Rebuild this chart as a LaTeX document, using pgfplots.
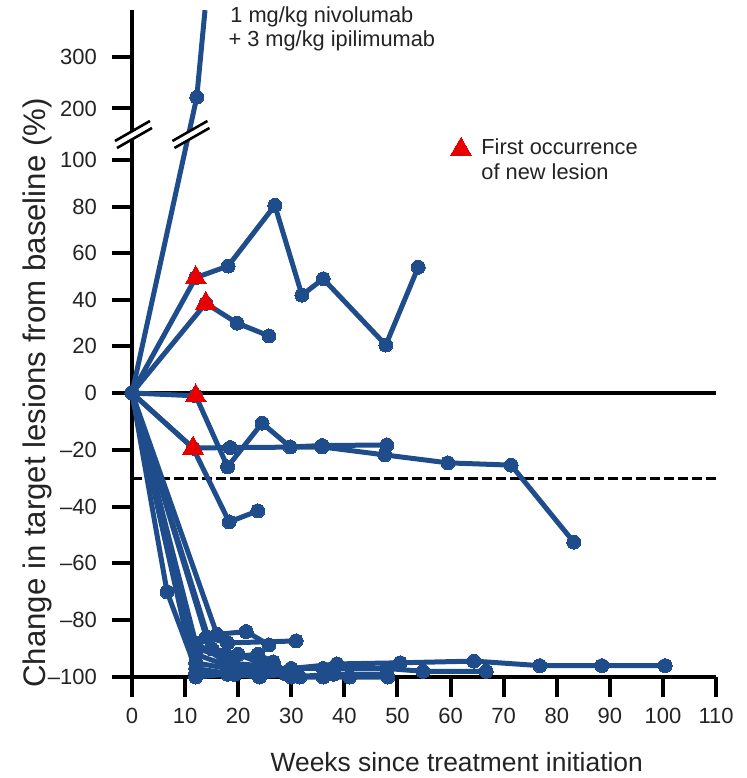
\documentclass[border=0pt]{standalone}
\usepackage{fontspec}
\setmainfont{Liberation Sans}
\usepackage{pgfplots}
\pgfplotsset{compat=1.18}
\definecolor{sblue}{RGB}{31,77,139}
\definecolor{sred}{RGB}{232,0,0}
\definecolor{txt}{RGB}{35,35,35}
\begin{document}
\begin{tikzpicture}
\begin{axis}[
  x=2.655pt, y=0.5pt,
  xmin=0, xmax=110, ymin=-284, ymax=383,
  clip=false,
  axis x line*=bottom, axis y line*=left,
  axis line style={line width=2pt},
  tick style={line width=2pt, black},
  major tick length=10pt,
  tick align=outside,
  xtick={0,10,...,110},
  ytick={-284,-227.2,-170.4,-113.6,-56.8,0,46.6,93.2,139.8,186.4,233,284.5,336},
  yticklabels={–100,–80,–60,–40,–20,0,20,40,60,80,100,200,300},
  y filter/.expression={y<=0 ? 2.84*y : (y<=100 ? 2.33*y : 233+0.515*(y-100))},
  /pgf/number format/assume math mode=true,
  tick label style={font=\fontsize{11}{12}\selectfont, text=txt},
  yticklabel style={xshift=-4pt},
  xticklabel style={yshift=-2pt},
  xlabel={Weeks since treatment initiation},
  ylabel={Change in target lesions from baseline (\%)},
  xlabel style={font=\fontsize{13.2}{15}\selectfont, text=txt, at={(axis description cs:0.556,0)}, anchor=center, yshift=-42.5pt},
  ylabel style={font=\fontsize{15.6}{17}\selectfont, text=txt, at={(axis description cs:0,0.4258)}, anchor=center, yshift=47.5pt},
  legend style={draw=none, fill=none, at={(axis cs:58.8,263)}, anchor=north west, cells={align=left}, column sep=3pt, font=\fontsize{10.9}{12.5}\selectfont, text=txt},
  legend image post style={yshift=5.5pt},
  series/.style={sblue, line width=2.5pt, mark=*, mark size=3.5pt, mark options={fill=sblue, draw=sblue, line width=0pt}},
]
% reference lines
\addplot[black, line width=2pt, forget plot] coordinates {(0,0) (110,0)};
\addplot[black, line width=1.4pt, dash pattern=on 5pt off 2pt, forget plot] coordinates {(0,-30) (110,-30)};

% tumour growth
\addplot[series, mark indices={1,2}, forget plot] coordinates {(0,0) (12.2,222) (13.75,391)};
\addplot[series, forget plot] coordinates {(0,0) (12,49.5) (18.1,54.5) (26.9,80.5) (32,42) (36,49) (47.8,20.6) (53.9,54)};
\addplot[series, forget plot] coordinates {(0,0) (13.9,38.5) (19.8,30) (25.8,24.5)};
% stable disease
\addplot[series, forget plot] coordinates {(0,0) (12,-1) (18,-26) (24.5,-10.6) (29.8,-19) (35.8,-18.5) (48,-18.3)};
\addplot[series, forget plot] coordinates {(0,0) (11.5,-19.4) (18.5,-19.2) (35.8,-19) (47.6,-21.8) (59.5,-24.6) (71.4,-25.4) (83.2,-52.5)};
\addplot[series, forget plot] coordinates {(0,0) (11.5,-19.4) (18.3,-45.4) (23.7,-41.5)};
% deep responses
\addplot[series, forget plot] coordinates {(0,0) (6.6,-70) (12,-97) (19,-99) (24,-100)};
\addplot[series, forget plot] coordinates {(0,0) (16,-85) (21.5,-84) (25.8,-88.7)};
\addplot[series, forget plot] coordinates {(0,0) (14,-86) (18,-88) (30.9,-87.3)};
\addplot[series, forget plot] coordinates {(0,0) (12,-90) (18,-93) (23.7,-92) (26.6,-94.7)};
\addplot[series, forget plot] coordinates {(0,0) (12,-92) (18,-96) (24,-97) (30,-97) (38.6,-95.4) (50.5,-95) (64.4,-94.4) (76.8,-96) (88.5,-96) (100.4,-96)};
\addplot[series, forget plot] coordinates {(0,0) (12,-95) (18,-97) (24,-98) (30,-97) (36,-97) (48,-97) (54.8,-98) (66.7,-98)};
\addplot[series, forget plot] coordinates {(0,0) (12,-98.6) (19.4,-99) (24,-100) (29,-99) (31.6,-100) (36,-100) (41,-100) (48.2,-100)};
\addplot[series, forget plot] coordinates {(0,0) (12,-88) (18,-95) (24,-96) (27,-97) (31,-99)};
\addplot[series, forget plot] coordinates {(0,0) (12,-100) (18,-99) (24,-98) (30,-100) (38,-99) (48,-99)};
\addplot[series, forget plot] coordinates {(0,0) (15,-90) (20,-92) (24,-95)};

% first occurrence of new lesion
\addplot[only marks, mark=triangle*, mark size=6pt, mark options={fill=sred, draw=sred, line width=0pt}]
  coordinates {(12,49.5) (13.9,38.5) (12,-1) (11.5,-19.4)};
\addlegendentry{First occurrence\\of new lesion}

\node[anchor=base west, font=\fontsize{10.9}{13}\selectfont, text=txt, inner sep=0pt] at (axis cs:18.45,370) {1 mg/kg nivolumab};
\node[anchor=base west, font=\fontsize{10.9}{13}\selectfont, text=txt, inner sep=0pt] at (axis cs:18.1,346) {+ 3 mg/kg ipilimumab};

\coordinate (O) at (axis cs:0,-284);
\coordinate (brL) at (axis cs:0.28,258.5);
\coordinate (brR) at (axis cs:11.1,258.5);
\end{axis}
% axis-break marks
\foreach \c in {brL,brR}{
  \fill[white] ([shift={(-9.25pt,-3.25pt)}]\c) -- ([shift={(8.25pt,6.75pt)}]\c) -- ([shift={(9.25pt,3.25pt)}]\c) -- ([shift={(-8.25pt,-6.75pt)}]\c) -- cycle;
  \draw[line width=1.3pt] ([shift={(-9.25pt,-3.25pt)}]\c) -- ([shift={(8.25pt,6.75pt)}]\c);
  \draw[line width=1.3pt] ([shift={(-8.25pt,-6.75pt)}]\c) -- ([shift={(9.25pt,3.25pt)}]\c);
}
\pgfresetboundingbox
\path ([shift={(-66pt,-50.5pt)}]O) rectangle ([shift={(307pt,338.5pt)}]O);
\end{tikzpicture}
\end{document}
